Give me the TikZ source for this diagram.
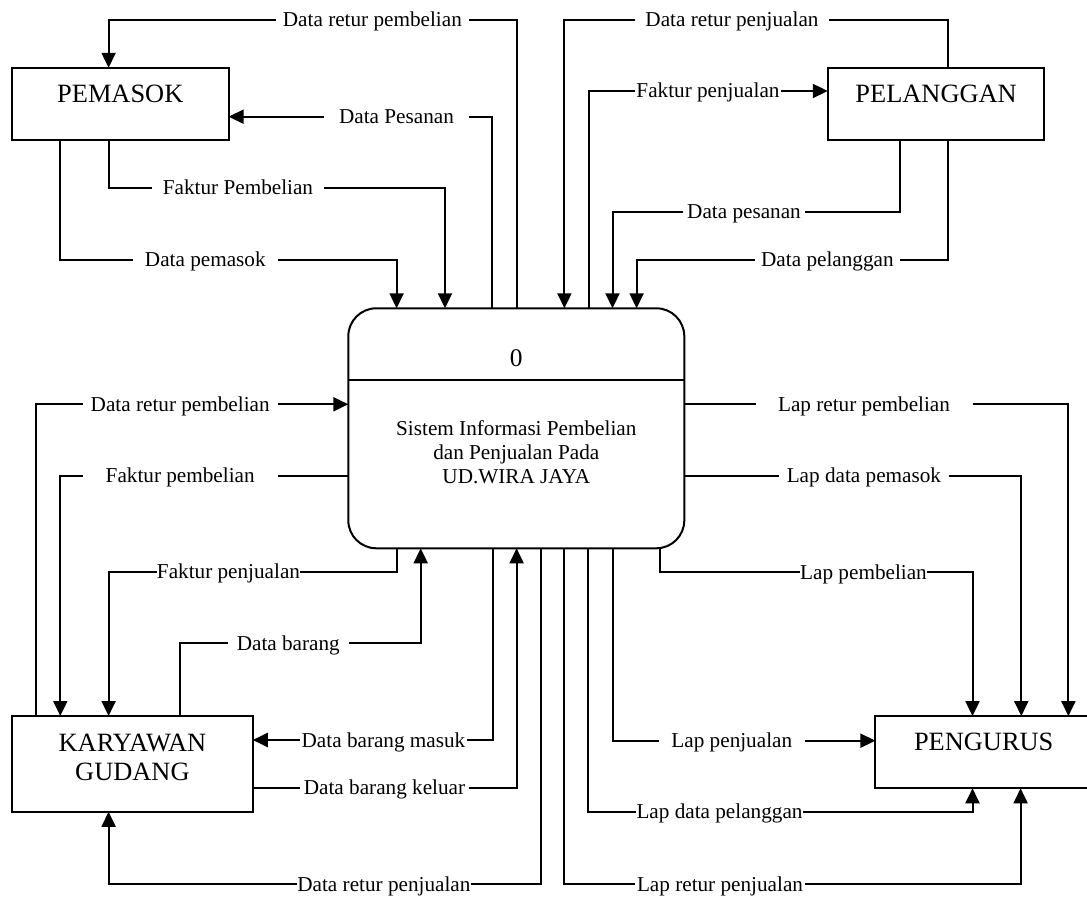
\documentclass[tikz,border=0pt]{standalone}
\usepackage{fontspec}
\setmainfont{Liberation Serif}
\usetikzlibrary{arrows.meta}

\begin{document}
\begin{tikzpicture}[x=0.5pt,y=-0.5pt,line width=1pt,
  >={Triangle[length=7.5pt,width=7pt]},
  entity node/.style={draw,inner sep=0pt,outer sep=0pt,minimum width=108.3pt,
    minimum height=36.1pt,text depth=10pt,font=\fontsize{13.2}{14.5}\selectfont},
  process node/.style={draw,rounded corners=14pt,inner sep=0pt,outer sep=0pt,
    minimum width=168pt,minimum height=120pt},
  flow/.style={inner sep=0pt,outer sep=0pt,text height=7pt,text depth=0pt,
    font=\fontsize{10.6}{12}\selectfont}]

  \useasboundingbox (0,0) rectangle (1087,897);

  % entities and process
  \node[entity node] (pemasok)   at (120.3,103.9) {PEMASOK};
  \node[entity node] (pelanggan) at (936.1,104)   {PELANGGAN};
  \node[entity node] (pengurus)  at (983.7,752.2) {PENGURUS};
  \node[entity node,minimum width=120.4pt,minimum height=47.9pt,text depth={},
    align=center] (karyawan) at (132.4,763.9) {KARYAWAN\\GUDANG\rule[-6.6pt]{0pt}{0pt}};

  \node[process node] (proc) at (516.3,428.3) {};
  \node[inner sep=0pt,font=\fontsize{12.7}{14}\selectfont] (procno) at (516.3,358) {0};
  \node[align=center,inner sep=0pt,font=\fontsize{10.6}{12}\selectfont] (procname)
    at (516.3,451.7) {Sistem Informasi Pembelian\\dan Penjualan Pada\\UD.WIRA JAYA};
  \draw (proc.west |- 0,380) -- (proc.east |- 0,380);

  % flow labels
  \node[flow,minimum width=96.5pt]  (rb1) at (372.4,20)    {Data retur pembelian};
  \node[flow,minimum width=72.5pt]  (dp1) at (396.5,116.7) {Data Pesanan};
  \node[flow,minimum width=86pt]    (fb1) at (238,187.7)   {Faktur Pembelian};
  \node[flow,minimum width=72.3pt]  (dpm) at (205.3,260)   {Data pemasok};
  \node[flow,minimum width=97pt]    (rj1) at (732,20)      {Data retur penjualan};
  \node[flow,minimum width=72.8pt]  (fj1) at (708,91)      {Faktur penjualan};
  \node[flow,minimum width=61pt]    (dps) at (744,211.7)   {Data pesanan};
  \node[flow,minimum width=72.9pt]  (dpl) at (827.4,260)   {Data pelanggan};
  \node[flow,minimum width=97.4pt]  (rb2) at (180.2,404.3) {Data retur pembelian};
  \node[flow,minimum width=97.4pt]  (fb2) at (180.2,476)   {Faktur pembelian};
  \node[flow,minimum width=71.5pt]  (fj2) at (228.5,571.7) {Faktur penjualan};
  \node[flow,minimum width=60.7pt]  (db)  at (288.3,643.3) {Data barang};
  \node[flow,minimum width=83.5pt]  (dbm) at (383.5,740)   {Data barang masuk};
  \node[flow,minimum width=84.5pt]  (dbk) at (384.5,787.7) {Data barang keluar};
  \node[flow,minimum width=86.9pt]  (rj2) at (383.9,884.3) {Data retur penjualan};
  \node[flow,minimum width=108.5pt] (lrb) at (864,404.3)   {Lap retur pembelian};
  \node[flow,minimum width=84.9pt]  (lpm) at (863.9,476)   {Lap data pemasok};
  \node[flow,minimum width=63.5pt]  (lpb) at (863.5,572.3) {Lap pembelian};
  \node[flow,minimum width=73.2pt]  (lpj) at (731.8,740.7) {Lap penjualan};
  \node[flow,minimum width=83.5pt]  (lpp) at (719.5,811.7) {Lap data pelanggan};
  \node[flow,minimum width=85pt]    (lrj) at (720,884.3)   {Lap retur penjualan};

  % pemasok
  \draw (516.6,0 |- proc.north) |- (rb1.east);
  \draw[->] (rb1.west) -| (108.6,0 |- pemasok.north);
  \draw (492.4,0 |- proc.north) |- (dp1.east);
  \draw[->] (dp1.west) -- (dp1.west -| pemasok.east);
  \draw (108.6,0 |- pemasok.south) |- (fb1.west);
  \draw[->] (fb1.east) -| (445,0 |- proc.north);
  \draw (60.3,0 |- pemasok.south) |- (dpm.west);
  \draw[->] (dpm.east) -| (396.6,0 |- proc.north);

  % pelanggan
  \draw (948,0 |- pelanggan.north) |- (rj1.east);
  \draw[->] (rj1.west) -| (564.4,0 |- proc.north);
  \draw (588.8,0 |- proc.north) |- (fj1.west);
  \draw[->] (fj1.east) -- (fj1.east -| pelanggan.west);
  \draw (900.3,0 |- pelanggan.south) |- (dps.east);
  \draw[->] (dps.west) -| (612.5,0 |- proc.north);
  \draw (948,0 |- pelanggan.south) |- (dpl.east);
  \draw[->] (dpl.west) -| (636.6,0 |- proc.north);

  % karyawan gudang
  \draw (36.2,0 |- karyawan.north) |- (rb2.west);
  \draw[->] (rb2.east) -- (rb2.east -| proc.west);
  \draw (fb2.east -| proc.west) -- (fb2.east);
  \draw[->] (fb2.west) -| (60.3,0 |- karyawan.north);
  \draw (396.6,0 |- proc.south) |- (fj2.east);
  \draw[->] (fj2.west) -| (108.6,0 |- karyawan.north);
  \draw (180,0 |- karyawan.north) |- (db.west);
  \draw[->] (db.east) -| (420.7,0 |- proc.south);
  \draw (493,0 |- proc.south) |- (dbm.east);
  \draw[->] (dbm.west) -- (dbm.west -| karyawan.east);
  \draw (dbk.west -| karyawan.east) -- (dbk.west);
  \draw[->] (dbk.east) -| (516.6,0 |- proc.south);
  \draw (540.7,0 |- proc.south) |- (rj2.east);
  \draw[->] (rj2.west) -| (108.6,0 |- karyawan.south);

  % pengurus
  \draw (lrb.west -| proc.east) -- (lrb.west);
  \draw[->] (lrb.east) -| (1068.4,0 |- pengurus.north);
  \draw (lpm.west -| proc.east) -- (lpm.west);
  \draw[->] (lpm.east) -| (1021.3,0 |- pengurus.north);
  \draw (660.3,0 |- proc.south) |- (lpb.west);
  \draw[->] (lpb.east) -| (972.5,0 |- pengurus.north);
  \draw (612.5,0 |- proc.south) |- (lpj.west);
  \draw[->] (lpj.east) -- (lpj.east -| pengurus.west);
  \draw (588,0 |- proc.south) |- (lpp.west);
  \draw[->] (lpp.east) -| (972.5,0 |- pengurus.south);
  \draw (564.4,0 |- proc.south) |- (lrj.west);
  \draw[->] (lrj.east) -| (1020.6,0 |- pengurus.south);

\end{tikzpicture}
\end{document}
